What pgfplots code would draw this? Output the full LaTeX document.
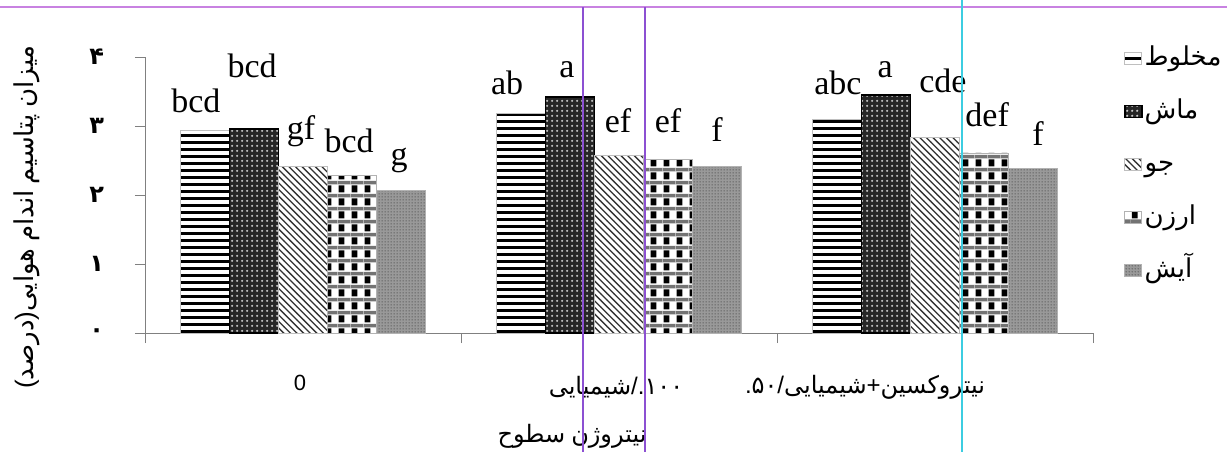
\documentclass[border=0pt]{standalone}
\usepackage{fontspec}
\setmainfont{Liberation Serif}
\newfontfamily\arabicfont[Script=Arabic]{DejaVu Sans}
\newfontfamily\latsans{Liberation Sans}
\usepackage{pgfplots}
\pgfplotsset{compat=1.18}
\usetikzlibrary{patterns}
\definecolor{artpurple}{RGB}{200,130,225}
\definecolor{artviolet}{RGB}{140,80,210}
\definecolor{artcyan}{RGB}{60,205,225}
\newcommand{\fa}[1]{\hbox{\arabicfont #1}}
\newcommand{\la}[1]{\hbox{\latsans #1}}

\pgfdeclarepatternformonly{hstripes}{\pgfqpoint{-1pt}{0pt}}{\pgfqpoint{41pt}{3.5pt}}{\pgfqpoint{40pt}{3.5pt}}{%
  \pgfsetlinewidth{1.6pt}\pgfpathmoveto{\pgfqpoint{-1pt}{0.8pt}}\pgfpathlineto{\pgfqpoint{41pt}{0.8pt}}\pgfusepath{stroke}}
\pgfdeclarepatternformonly{nwlines}{\pgfqpoint{-1pt}{-1pt}}{\pgfqpoint{4.5pt}{4.5pt}}{\pgfqpoint{3.3pt}{3.3pt}}{%
  \pgfsetlinewidth{0.65pt}\pgfpathmoveto{\pgfqpoint{0pt}{3.3pt}}\pgfpathlineto{\pgfqpoint{3.4pt}{-0.1pt}}\pgfusepath{stroke}}
\pgfdeclarepatternformonly{wdots}{\pgfqpoint{0pt}{0pt}}{\pgfqpoint{2.5pt}{2.5pt}}{\pgfqpoint{2.5pt}{2.5pt}}{%
  \pgfpathcircle{\pgfqpoint{1.25pt}{1.25pt}}{0.7pt}\pgfusepath{fill}}
\pgfdeclarepatternformonly{fdots}{\pgfqpoint{0pt}{0pt}}{\pgfqpoint{1.5pt}{1.5pt}}{\pgfqpoint{1.5pt}{1.5pt}}{%
  \pgfpathcircle{\pgfqpoint{0.75pt}{0.75pt}}{0.35pt}\pgfusepath{fill}}
\pgfdeclarepatterninherentlycolored{checkgrid}{\pgfpointorigin}{\pgfqpoint{6.5pt}{6.5pt}}{\pgfqpoint{6.5pt}{6.5pt}}{%
  \pgfsetfillcolor{white}\pgfpathrectangle{\pgfpointorigin}{\pgfqpoint{6.5pt}{6.5pt}}\pgfusepath{fill}%
  \pgfsetfillcolor{black}\pgfpathrectangle{\pgfqpoint{0.4pt}{0.3pt}}{\pgfqpoint{3pt}{3.8pt}}\pgfusepath{fill}%
  \pgfsetfillcolor{black!55}\pgfpathrectangle{\pgfqpoint{0pt}{4.6pt}}{\pgfqpoint{6.5pt}{1.9pt}}\pgfusepath{fill}}

\begin{document}
\begin{tikzpicture}
\useasboundingbox (-72.5pt,-59.5pt) rectangle (541pt,166.5pt);
\fill[white] (-72.5pt,-59.5pt) rectangle (541pt,166.5pt);
\begin{axis}[
  at={(0pt,0pt)}, anchor=south west,
  scale only axis, width=474pt, height=138pt,
  xmin=0, xmax=3, ymin=0, ymax=4,
  axis x line=bottom, axis y line=left,
  axis line style={-, draw=black!50},
  tick style={draw=black!50},
  tick align=outside, major tick length=5pt,
  xtick={0,1,2,3}, xticklabels={},
  ytick={0,1,2,3,4}, yticklabels={۰,۱,۲,۳,۴},
  yticklabel style={font=\arabicfont\bfseries\fontsize{12}{12}\selectfont, xshift=-12pt},
  ybar=0pt, bar width=0.155,
  clip=false,
  legend image code/.code={\draw[#1] (0pt,-2pt) rectangle (8.5pt,4pt);},
  legend style={at={(1.026,1.06)}, anchor=north west, draw=none, fill=none,
    font=\arabicfont\fontsize{13}{13}\selectfont, row sep=11pt,
    /tikz/every even column/.append style={column sep=1pt},
    nodes={inner sep=1pt, text height=9.5pt, text depth=4pt}},
  legend cell align=left,
]
\addplot[fill=white, draw=black!25, postaction={pattern=hstripes, pattern color=black}]
  coordinates {(0.5,2.94) (1.5,3.19) (2.5,3.10)};
\addlegendentry{مخلوط}
\addplot[fill=black!85, draw=black, line width=0.8pt, postaction={pattern=wdots, pattern color=white!80!black}]
  coordinates {(0.5,2.96) (1.5,3.42) (2.5,3.45)};
\addlegendentry{ماش}
\addplot[fill=white, draw=black!25, postaction={pattern=nwlines, pattern color=black!80}]
  coordinates {(0.5,2.42) (1.5,2.57) (2.5,2.84)};
\addlegendentry{جو}
\addplot[fill=white, draw=black!30, postaction={pattern=checkgrid}]
  coordinates {(0.5,2.29) (1.5,2.52) (2.5,2.61)};
\addlegendentry{ارزن}
\addplot[fill=black!40, draw=black!30, postaction={pattern=fdots, pattern color=black!75}]
  coordinates {(0.5,2.06) (1.5,2.42) (2.5,2.38)};
\addlegendentry{آیش}

\tikzset{lt/.style={anchor=base, font=\fontsize{17}{17}\selectfont, inner sep=0pt}}
\node[lt] at (axis cs:0.161,3.20) {bcd};
\node[lt] at (axis cs:0.339,3.71) {bcd};
\node[lt] at (axis cs:0.494,2.80) {gf};
\node[lt] at (axis cs:0.646,2.62) {bcd};
\node[lt] at (axis cs:0.804,2.43) {g};
\node[lt] at (axis cs:1.146,3.45) {ab};
\node[lt] at (axis cs:1.335,3.70) {a};
\node[lt] at (axis cs:1.497,2.91) {ef};
\node[lt] at (axis cs:1.655,2.90) {ef};
\node[lt] at (axis cs:1.810,2.77) {f};
\node[lt] at (axis cs:2.193,3.45) {abc};
\node[lt] at (axis cs:2.342,3.71) {a};
\node[lt] at (axis cs:2.525,3.49) {cde};
\node[lt] at (axis cs:2.665,2.99) {def};
\node[lt] at (axis cs:2.826,2.72) {f};
\end{axis}

% category labels
\node[font=\latsans\fontsize{11}{11}\selectfont] at (77.5pt,-25pt) {0};
\node[font=\fontsize{12}{12}\selectfont, inner sep=0pt] at (235.5pt,-27pt) {\fa{شیمیایی}\la{/.}\fa{۱۰۰}};
\node[font=\fontsize{12}{12}\selectfont, inner sep=0pt] at (360pt,-27pt) {\la{.}\fa{۵۰}\la{/}\fa{شیمیایی}\la{+}\fa{نیتروکسین}};
% axis titles
\node[font=\fontsize{12}{12}\selectfont, inner sep=0pt] at (213.5pt,-51.5pt) {\fa{سطوح}\ \fa{نیتروژن}};
\node[font=\fontsize{13}{13}\selectfont, inner sep=0pt, rotate=90] at (-59pt,58pt)
  {\la{(}\fa{درصد}\la{)}\fa{هوایی}\ \fa{اندام}\ \fa{پتاسیم}\ \fa{میزان}};

% screen artefact lines
\draw[artpurple, line width=0.9pt] (-72.5pt,163pt) -- (541pt,163pt);
\draw[artviolet, line width=0.6pt] (219pt,163pt) -- (219pt,-59.5pt);
\draw[artviolet, line width=0.6pt] (250pt,163pt) -- (250pt,-59.5pt);
\draw[artcyan, line width=0.6pt] (408.5pt,166.5pt) -- (408.5pt,-59.5pt);
\end{tikzpicture}
\end{document}
